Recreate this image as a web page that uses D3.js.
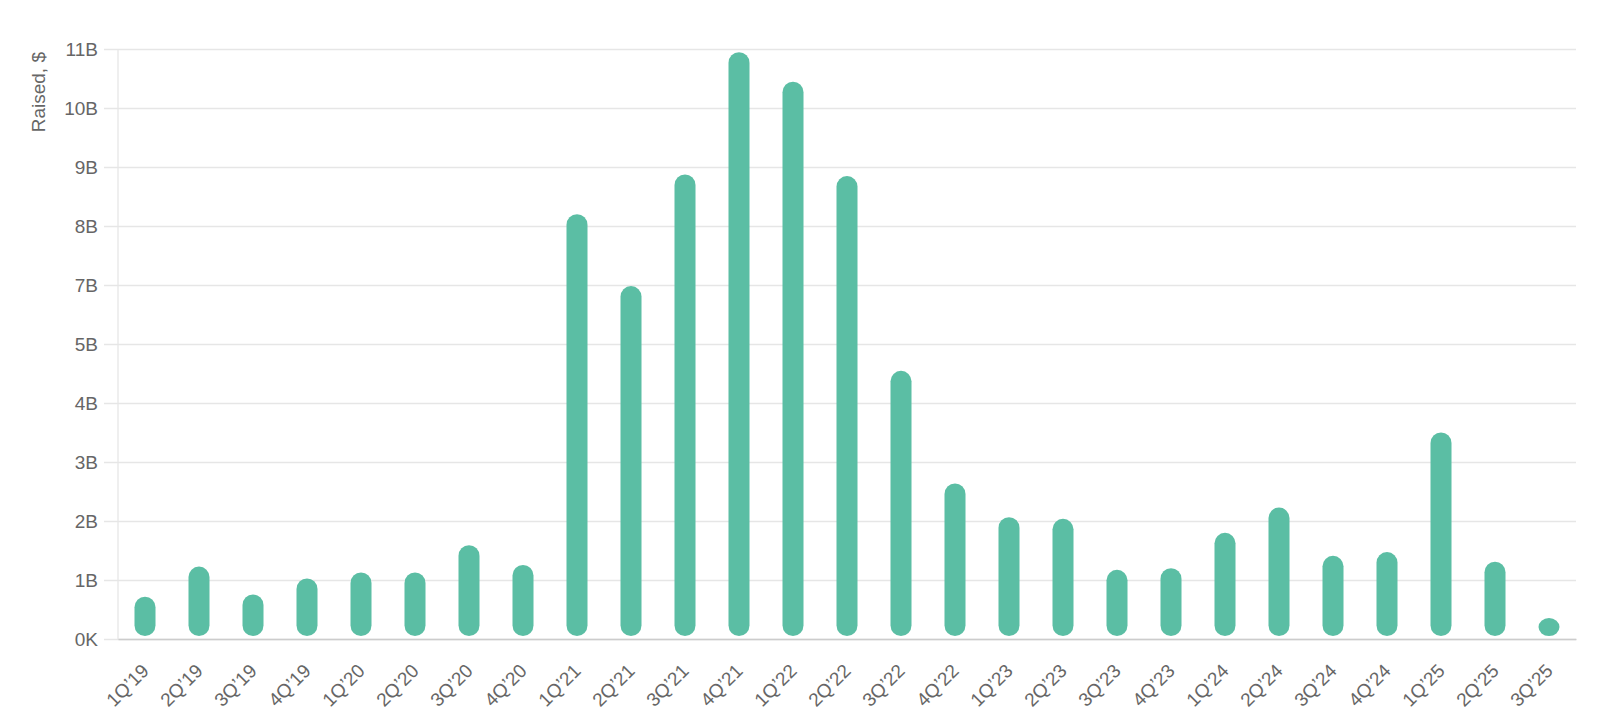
<!DOCTYPE html>
<html>
<head>
<meta charset="utf-8">
<script src="https://cdn.jsdelivr.net/npm/d3@7"></script>
<style>
  html, body { margin: 0; padding: 0; background: #fff; }
  svg { display: block; font-family: "Liberation Sans", Arial, Helvetica, sans-serif; }
</style>
</head>
<body>
<div id="chart"></div>
<script>
const quarters = ["1Q’19","2Q’19","3Q’19","4Q’19","1Q’20","2Q’20","3Q’20","4Q’20",
  "1Q’21","2Q’21","3Q’21","4Q’21","1Q’22","2Q’22","3Q’22","4Q’22",
  "1Q’23","2Q’23","3Q’23","4Q’23","1Q’24","2Q’24","3Q’24","4Q’24",
  "1Q’25","2Q’25","3Q’25"]
// raised, billions of $
const raised = [0.79, 1.35, 0.83, 1.13, 1.24, 1.24, 1.75, 1.38,
  7.92, 6.58, 8.66, 10.94, 10.39, 8.63, 5.00, 2.90,
  2.27, 2.24, 1.29, 1.32, 1.98, 2.45, 1.55, 1.62,
  3.85, 1.44, 0.39]
const yTickValues = [0, 1.1, 2.2, 3.3, 4.4, 5.5, 6.6, 7.7, 8.8, 9.9, 11]
const yTickLabels = ["0K","1B","2B","3B","4B","5B","7B","8B","9B","10B","11B"]

/* Chart Dimensions */
const dimensions = {
  width: 1600,
  height: 728,
  margin: { top: 49, right: 24, bottom: 89, left: 118 }
}
dimensions.boundedWidth = dimensions.width - dimensions.margin.left - dimensions.margin.right
dimensions.boundedHeight = dimensions.height - dimensions.margin.top - dimensions.margin.bottom

const svg = d3.select("#chart").append("svg")
    .attr("width", dimensions.width)
    .attr("height", dimensions.height)

const bounds = svg.append("g")
    .attr("transform", `translate(${dimensions.margin.left},${dimensions.margin.top})`)

/* Scales */
const xScale = d3.scaleBand()
    .domain(quarters)
    .range([0, dimensions.boundedWidth])

const yScale = d3.scaleLinear()
    .domain([0, 11])
    .range([dimensions.boundedHeight, 0])

/* Grid */
const yAxis = bounds.append("g")
    .call(d3.axisLeft(yScale)
      .tickValues(yTickValues)
      .tickFormat((d, i) => yTickLabels[i])
      .tickSize(-dimensions.boundedWidth - 14)
      .tickPadding(6))
    .attr("transform", "translate(-14,0)")
yAxis.select(".domain").remove()
yAxis.selectAll(".tick line")
    .attr("x1", 0)
    .attr("x2", dimensions.boundedWidth + 14)
    .attr("stroke", "#e6e6e6")
    .attr("stroke-width", 1.3)
yAxis.selectAll(".tick text")
    .attr("fill", "#666")
    .style("font-size", "19px")
    .style("font-family", "Liberation Sans, Arial, sans-serif")

bounds.append("line")
    .attr("x1", 0).attr("x2", 0)
    .attr("y1", 0).attr("y2", dimensions.boundedHeight)
    .attr("stroke", "#e6e6e6")
    .attr("stroke-width", 1.3)

/* Bars */
const barWidth = 21
const barGap = 3
bounds.append("g").selectAll("rect")
    .data(raised)
    .enter().append("rect")
      .attr("x", (d, i) => xScale(quarters[i]) + xScale.bandwidth() / 2 - barWidth / 2)
      .attr("y", d => yScale(d))
      .attr("width", barWidth)
      .attr("height", d => Math.max(0, dimensions.boundedHeight - barGap - yScale(d)))
      .attr("rx", barWidth / 2)
      .attr("fill", "#5bbea4")

/* X axis */
const xAxis = bounds.append("g")
    .attr("transform", `translate(0,${dimensions.boundedHeight})`)
    .call(d3.axisBottom(xScale).tickSize(0).tickPadding(0))
xAxis.select(".domain")
    .attr("stroke", "#ccc")
    .attr("stroke-width", 1.3)
xAxis.selectAll(".tick text")
    .attr("fill", "#666")
    .style("font-size", "19px")
    .style("font-family", "Liberation Sans, Arial, sans-serif")
    .attr("text-anchor", "end")
    .attr("dy", 0)
    .attr("transform", "translate(5,33) rotate(-45)")
    .attr("y", 0)
    .attr("x", 0)

/* Axis label */
svg.append("text")
    .attr("transform", `translate(45,${dimensions.margin.top + 3}) rotate(-90)`)
    .attr("text-anchor", "end")
    .attr("fill", "#666")
    .style("font-size", "19px")
    .text("Raised, $")
</script>
</body>
</html>
